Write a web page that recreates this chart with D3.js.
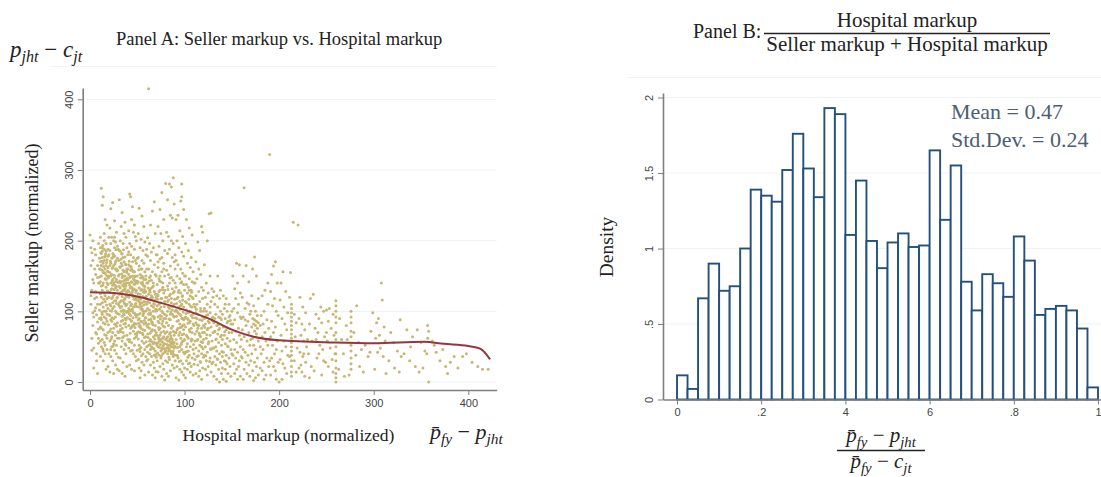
<!DOCTYPE html>
<html>
<head>
<meta charset="utf-8">
<script src="https://cdn.jsdelivr.net/npm/d3@7"></script>
<style>
  body { margin: 0; background: #fff; }
  svg { display: block; }
  .serif { font-family: "Liberation Serif", "Times New Roman", serif; }
  .tick text { font-family: "Liberation Sans", Arial, sans-serif; font-size: 11px; fill: #444; }
</style>
</head>
<body>
<svg id="chart" width="1101" height="477"></svg>
<script>
// Panel A: seller markup vs hospital markup
const scatterPoints = [
  [0,208],[1,190],[2,183],[1,165],[3,172],[2,130],[1,110],[3,98],[2,62],[4,48],[5,188],[6,152],[4,140],[7,120],[5,101],[8,85],[6,70],[9,55],[7,40],[8,12],[9,196],[5,160],[3,145],[6,128],[8,110],[4,92],[9,75],[7,30],[2,45],[6,180],[8,165],[9,140],[10,102],[10,90],[5,118],[3,80],[7,95],[1,122],[9,62],[4,20],[8,148],[6,105],[10,175],[3,200],[7,68],
  [12,274],[14,262],[13,250],[16,230],[18,222],[11,205],[15,200],[17,196],[13,190],[19,188],[12,182],[16,178],[18,173],[11,170],[14,168],[17,165],[19,162],[13,158],[15,155],[12,150],[18,150],[16,146],[11,142],[14,140],[19,138],[17,134],[13,130],[15,126],[12,120],[18,118],[16,114],[11,110],[14,106],[19,104],[17,100],[13,96],[15,92],[12,88],[18,86],[16,82],[11,78],[14,74],[19,70],[17,66],[13,60],[15,56],[12,50],[18,46],[16,40],[11,36],[14,30],[19,22],[17,18],[13,185],[19,178],[11,160],[15,172],[17,185],[12,165],[18,140],[14,155],[16,160],[11,125],[19,128],[13,112],[15,100],[17,90],[12,76],[18,62],[16,52],[14,44],[11,58],[19,156],[13,176],[15,188],[17,145],[12,136],[16,122],[18,96],[14,84],[10,160],[10,140],[11,190],[15,210],[20,205],[20,180],[20,150],[20,120],[20,95],[20,40],
  [22,245],[24,254],[26,228],[21,218],[28,212],[23,205],[25,200],[27,198],[29,192],[21,186],[24,182],[26,178],[28,172],[22,168],[25,165],[27,160],[29,158],[21,155],[23,152],[26,148],[28,145],[22,140],[24,137],[27,133],[29,130],[21,127],[25,123],[23,118],[26,115],[28,111],[22,108],[24,104],[27,100],[29,97],[21,94],[25,90],[23,86],[26,82],[28,79],[22,75],[24,70],[27,66],[29,62],[21,58],[25,54],[23,50],[26,45],[28,40],[22,36],[24,30],[27,24],[29,18],[21,14],[25,12],[23,175],[26,190],[28,160],[22,150],[24,162],[27,142],[29,120],[21,110],[25,140],[23,132],[26,125],[28,98],[22,88],[24,112],[27,92],[29,84],[21,72],[25,76],[23,64],[26,58],[28,52],[22,46],[24,120],[27,170],[29,175],[30,188],[30,150],[30,110],[30,70],[30,35],[22,196],[26,205],[24,145],[28,135],[21,165],[25,180],[23,100],[27,115],
  [31,258],[34,240],[37,226],[33,220],[36,210],[38,205],[32,200],[35,196],[39,190],[31,186],[34,182],[37,177],[33,174],[36,170],[38,166],[32,162],[35,158],[39,155],[31,152],[34,148],[37,145],[33,142],[36,139],[38,136],[32,133],[35,130],[39,127],[31,124],[34,121],[37,118],[33,115],[36,112],[38,108],[32,105],[35,102],[39,99],[31,96],[34,93],[37,90],[33,86],[36,82],[38,78],[32,74],[35,70],[39,66],[31,62],[34,58],[37,54],[33,50],[36,46],[38,40],[32,34],[35,28],[39,22],[31,16],[34,12],[37,8],[33,168],[36,156],[38,144],[32,140],[35,150],[39,160],[31,135],[34,128],[37,110],[33,100],[36,95],[38,88],[32,80],[35,115],[39,140],[31,172],[34,165],[37,150],[33,125],[36,135],[38,122],[40,180],[40,160],[40,130],[40,100],[40,60],[32,185],[35,176],[37,132],[39,110],[31,108],[34,76],[36,65],[38,52],
  [42,266],[43,262],[45,248],[44,230],[47,222],[41,214],[46,212],[48,206],[49,200],[42,196],[44,192],[47,188],[41,184],[43,180],[46,176],[48,172],[49,168],[42,164],[44,160],[47,156],[41,152],[43,149],[46,146],[48,143],[49,140],[42,137],[44,134],[47,131],[41,128],[43,125],[46,122],[48,119],[49,116],[42,113],[44,110],[47,107],[41,104],[43,101],[46,98],[48,95],[49,92],[42,89],[44,86],[47,83],[41,80],[43,76],[46,72],[48,68],[49,64],[42,60],[44,56],[47,52],[41,48],[43,44],[46,40],[48,36],[49,30],[42,24],[44,18],[47,16],[45,170],[45,150],[45,130],[45,100],[45,80],[50,175],[50,150],[50,140],[50,120],[50,95],[50,70],[50,45],[42,148],[44,142],[47,138],[41,120],[43,94],[46,156],[48,150],[49,130],[42,102],[44,78],[47,62],[41,166],[43,158],[46,132],[48,110],[49,82],[40,145],[41,140],[46,106],[47,144],[44,124],[43,108],
  [52,246],[55,235],[57,220],[51,210],[54,202],[58,198],[53,190],[56,186],[59,180],[51,176],[55,172],[57,168],[52,164],[54,160],[58,156],[53,152],[56,148],[59,145],[51,142],[55,139],[57,136],[52,133],[54,130],[58,127],[53,124],[56,121],[59,118],[51,115],[55,112],[57,109],[52,106],[54,103],[58,100],[53,97],[56,94],[59,91],[51,88],[55,85],[57,82],[52,79],[54,76],[58,73],[53,70],[56,67],[59,64],[51,61],[55,58],[57,55],[52,52],[54,49],[58,46],[53,43],[56,40],[59,36],[51,32],[55,28],[57,24],[52,20],[54,16],[58,10],[53,6],[56,138],[59,150],[51,125],[55,160],[57,145],[52,118],[54,140],[58,135],[53,110],[56,100],[59,128],[51,95],[55,150],[57,114],[52,90],[54,86],[58,120],[53,80],[56,74],[59,84],[60,188],[60,160],[60,140],[60,110],[60,80],[60,50],[60,30],
  [62,415],[68,255],[66,242],[64,222],[69,210],[61,204],[63,196],[67,190],[65,184],[61,178],[64,172],[68,166],[62,160],[66,156],[69,152],[63,148],[65,144],[61,140],[67,136],[64,132],[68,128],[62,124],[66,120],[69,116],[63,112],[65,108],[61,104],[67,100],[64,96],[68,92],[62,88],[66,84],[69,80],[63,76],[65,72],[61,68],[67,64],[64,60],[68,56],[62,52],[66,48],[69,44],[63,40],[65,36],[61,32],[67,28],[64,24],[68,20],[62,14],[66,10],[69,6],[63,130],[65,122],[61,114],[67,106],[64,98],[68,90],[62,82],[66,74],[69,66],[63,58],[65,50],[61,42],[67,140],[64,150],[68,110],[62,96],[66,134],[69,124],[63,102],[65,86],[61,78],[67,54],[64,46],[68,38],[70,180],[70,150],[70,120],[70,100],[70,70],[70,55],[70,35],[70,15],
  [80,281],[76,268],[74,244],[78,230],[72,220],[75,210],[77,200],[73,192],[79,186],[71,180],[74,174],[78,168],[72,162],[76,156],[79,150],[73,146],[75,142],[71,138],[77,134],[74,130],[78,126],[72,122],[76,118],[79,114],[73,110],[75,106],[71,102],[77,98],[74,94],[78,90],[72,86],[76,82],[79,78],[73,74],[75,70],[71,66],[77,62],[74,58],[78,54],[72,50],[76,46],[79,42],[73,38],[75,34],[71,30],[77,26],[74,22],[78,18],[72,14],[76,8],[79,3],[73,128],[75,118],[71,108],[77,86],[74,76],[78,64],[72,56],[76,48],[79,54],[73,60],[75,44],[71,52],[77,40],[74,66],[78,72],[72,92],[76,100],[79,96],[73,84],[75,112],[71,124],[77,140],[74,150],[78,160],[72,170],[76,176],[79,130],[80,120],[80,90],[80,60],[80,45],[80,30],
  [88,289],[84,280],[86,276],[82,258],[89,252],[85,236],[87,232],[81,212],[83,206],[86,200],[88,196],[84,188],[82,182],[87,176],[89,170],[85,164],[81,158],[83,152],[86,148],[88,144],[84,140],[82,136],[87,132],[89,128],[85,124],[81,120],[83,116],[86,112],[88,108],[84,104],[82,100],[87,96],[89,92],[85,88],[81,84],[83,80],[86,76],[88,72],[84,68],[82,64],[87,60],[89,56],[85,52],[81,48],[83,44],[86,40],[88,36],[84,32],[82,28],[87,24],[89,20],[85,16],[81,12],[83,8],[86,50],[88,54],[84,46],[82,58],[87,42],[89,48],[85,56],[81,62],[83,52],[86,62],[88,44],[84,58],[82,40],[87,50],[89,66],[85,70],[81,94],[83,106],[86,118],[88,126],[84,122],[82,114],[87,102],[89,110],[85,96],[90,140],[90,100],[90,70],[90,50],[90,30],[90,160],[90,180],
  [97,280],[97,262],[96,256],[99,244],[93,236],[91,230],[95,214],[98,206],[92,200],[94,190],[97,184],[99,178],[91,172],[93,166],[96,160],[98,154],[92,150],[95,146],[97,142],[99,138],[91,134],[94,130],[96,126],[98,122],[92,118],[95,114],[97,110],[99,106],[91,102],[93,98],[96,94],[98,90],[92,86],[95,82],[97,78],[99,74],[91,70],[94,66],[96,62],[98,58],[92,54],[95,50],[97,46],[99,42],[91,38],[93,34],[96,30],[98,26],[92,22],[95,18],[97,14],[99,10],[91,6],[94,3],[96,140],[98,116],[92,100],[95,96],[97,90],[99,68],[91,60],[93,120],[96,108],[98,80],[92,74],[95,70],[97,56],[99,88],[93,76],[94,106],[100,150],[100,130],[100,90],[100,60],[100,40],[100,20],
  [102,230],[105,218],[108,208],[101,196],[104,186],[107,176],[103,168],[106,162],[109,156],[101,150],[105,146],[108,142],[102,138],[104,134],[107,130],[103,126],[106,122],[109,118],[101,114],[105,110],[108,106],[102,102],[104,98],[107,94],[103,90],[106,86],[109,82],[101,78],[105,74],[108,70],[102,66],[104,62],[107,58],[103,54],[106,50],[109,46],[101,42],[105,38],[108,34],[102,30],[104,26],[107,22],[103,18],[106,14],[109,10],[101,6],[105,130],[108,120],[102,112],[104,88],[107,76],[103,64],[106,100],[109,96],[101,92],[105,84],[108,60],[102,50],[104,44],[110,140],[110,110],[110,80],[110,40],[110,25],
  [118,220],[119,212],[114,198],[116,186],[112,170],[115,160],[117,152],[113,146],[111,140],[118,134],[115,128],[112,122],[119,118],[116,114],[113,110],[111,106],[117,100],[114,96],[119,92],[116,88],[112,84],[115,80],[118,76],[113,72],[111,68],[117,64],[114,60],[119,56],[116,52],[112,48],[115,44],[118,40],[113,36],[111,32],[117,28],[114,24],[119,20],[116,16],[112,12],[115,8],[118,4],[113,90],[117,104],[112,98],[114,76],[119,70],[116,66],[111,58],[118,50],[120,130],[120,100],[120,80],[120,60],[120,35],
  [126,238],[128,239],[124,200],[121,166],[127,150],[123,140],[129,132],[125,126],[122,120],[128,114],[124,110],[121,104],[127,98],[123,94],[129,90],[125,86],[122,82],[128,78],[124,74],[121,70],[127,66],[123,62],[129,58],[125,54],[122,50],[128,46],[124,42],[121,38],[127,34],[123,30],[129,26],[125,22],[122,18],[128,14],[124,10],[126,84],[130,120],[130,92],[130,70],[130,48],[130,28],[121,90],[127,106],[125,76],[123,100],
  [131,128],[134,122],[137,118],[132,110],[135,106],[138,100],[133,96],[136,92],[139,88],[131,84],[134,80],[137,76],[132,72],[135,68],[138,64],[133,60],[136,56],[139,52],[131,48],[134,44],[137,40],[132,36],[135,32],[138,28],[133,24],[136,18],[139,12],[131,8],[134,4],[137,0],[135,150],[138,130],[132,90],[136,74],[139,66],[133,50],[140,60],[140,96],[140,36],[140,20],
  [141,122],[144,118],[147,110],[142,104],[145,100],[148,94],[143,90],[146,86],[149,82],[141,78],[144,74],[147,70],[142,66],[145,62],[148,58],[143,54],[146,50],[149,46],[141,42],[144,38],[147,34],[142,30],[145,26],[148,22],[143,18],[146,12],[149,8],[141,4],[144,1],[150,100],[150,70],[150,40],[147,92],[143,110],[145,84],
  [155,168],[158,166],[151,150],[156,140],[153,132],[159,126],[154,118],[157,110],[152,104],[156,98],[159,92],[153,88],[151,82],[157,76],[154,72],[158,66],[152,60],[155,56],[159,50],[153,46],[156,42],[151,38],[154,34],[158,30],[152,26],[157,22],[155,18],[153,12],[159,8],[156,4],[160,90],[160,60],[160,36],
  [163,275],[165,165],[162,150],[168,142],[161,120],[166,112],[164,104],[169,96],[162,92],[167,86],[165,80],[161,74],[168,70],[163,64],[166,58],[169,52],[162,46],[164,42],[167,38],[161,34],[165,28],[168,24],[163,18],[166,12],[169,8],[162,4],[170,100],[170,60],[170,30],[164,88],[168,110],
  [174,177],[172,160],[176,150],[171,122],[178,118],[173,108],[175,100],[177,94],[172,90],[174,88],[176,86],[178,84],[173,82],[175,80],[171,78],[177,76],[174,72],[176,68],[172,62],[178,58],[173,52],[175,46],[171,40],[177,34],[174,28],[176,22],[172,16],[178,10],[175,6],[173,2],[180,80],[180,50],[180,20],
  [185,130],[182,122],[188,110],[184,100],[181,94],[187,88],[183,82],[189,76],[185,70],[182,64],[186,58],[188,52],[183,46],[181,40],[187,34],[184,28],[189,22],[182,16],[186,10],[184,4],[190,60],[190,30],[188,140],
  [190,322],[196,170],[194,164],[192,152],[198,140],[191,128],[195,118],[193,108],[197,100],[199,94],[192,86],[196,78],[194,70],[191,64],[198,58],[193,52],[197,46],[195,40],[192,34],[199,28],[194,22],[196,16],[191,10],[197,4],
  [204,156],[202,140],[207,128],[201,116],[205,106],[209,98],[203,90],[206,82],[208,74],[202,66],[205,58],[207,50],[203,44],[209,38],[201,32],[204,26],[206,20],[208,12],[203,4],[200,0],
  [215,226],[220,222],[212,155],[213,110],[213,104],[213,98],[213,92],[213,86],[213,80],[213,74],[213,68],[213,62],[213,56],[213,50],[213,44],[213,38],[213,30],[213,22],[213,14],[213,8],[211,120],[216,96],[218,84],[217,64],[219,48],[216,30],[218,14],[211,36],
  [222,120],[225,106],[228,98],[221,90],[224,82],[227,74],[223,66],[226,58],[229,50],[222,42],[225,36],[228,28],[221,20],[224,14],[227,8],[230,60],[226,40],[223,24],
  [236,124],[233,118],[244,106],[247,100],[239,96],[242,90],[245,84],[232,82],[238,76],[241,70],[248,64],[235,58],[243,52],[246,46],[231,40],[240,34],[249,28],[234,22],[237,16],[245,10],[232,6],[250,102],[250,70],[242,40],[247,30],[239,60],
  [253,104],[257,96],[252,86],[255,76],[258,66],[251,58],[254,48],[259,40],[256,32],[252,22],[257,14],[260,115],[260,108],[260,100],[260,92],[260,84],[260,70],[260,60],[260,50],[260,40],[260,30],[260,20],[260,12],[260,6],[260,0],[264,90],[266,60],[268,40],[263,18],[269,8],
  [282,108],[276,100],[276,92],[276,84],[276,72],[276,64],[276,52],[276,44],[276,34],[276,26],[276,18],[272,60],[279,70],[284,56],[287,46],[281,38],[285,22],[289,14],[291,52],[294,36],[297,72],[299,98],[296,42],[271,80],[274,10],
  [308,140],[309,116],[305,90],[303,84],[311,78],[306,66],[302,62],[312,58],[307,48],[304,42],[310,36],[301,18],[313,12],[318,70],[321,56],[325,44],[328,88],[316,30],[322,20],[329,36],[327,14],
  [335,74],[341,64],[346,74],[332,40],[338,30],[344,22],[350,56],[354,44],[357,80],[358,72],[357,62],[356,40],[358,0],[352,20],[348,14],[339,50],
  [362,58],[364,52],[366,42],[370,30],[376,22],[378,12],[381,28],[389,20],[394,36],[398,40],[404,28],[410,22],[415,18],[421,18],[373,46],[385,36],
  // extra points in the dense core
  [12.5,171],[14.5,163],[16.5,181],[18.5,157],[10.5,149],[13.5,137],[15.5,177],[17.5,169],[19.5,147],[11.5,183],[13.5,193],[16.5,153],[18.5,129],[14.5,117],[12.5,99],[17.5,109],[19.5,81],[11.5,91],[15.5,67],[13.5,47],
  [21.5,171],[23.5,161],[25.5,151],[27.5,187],[29.5,141],[22.5,131],[24.5,177],[26.5,167],[28.5,119],[21.5,101],[23.5,91],[25.5,107],[27.5,81],[29.5,71],[22.5,61],[24.5,51],[26.5,137],[28.5,157],[23.5,143],[25.5,131],
  [31.5,163],[33.5,153],[35.5,143],[37.5,167],[39.5,147],[32.5,127],[34.5,137],[36.5,117],[38.5,157],[31.5,113],[33.5,107],[35.5,97],[37.5,83],[39.5,91],[32.5,71],[34.5,63],[36.5,129],[38.5,99],[33.5,181],[35.5,187],[37.5,139],[39.5,121],[31.5,143],[36.5,101],[34.5,87],
  [41.5,171],[43.5,163],[45.5,157],[47.5,149],[49.5,143],[42.5,133],[44.5,127],[46.5,117],[48.5,111],[41.5,97],[43.5,87],[45.5,91],[47.5,77],[49.5,67],[42.5,69],[44.5,103],[46.5,139],[48.5,127],[43.5,141],[45.5,121],[47.5,97],[49.5,107],[41.5,57],[44.5,45],[46.5,81],
  [51.5,159],[53.5,147],[55.5,141],[57.5,131],[59.5,121],[52.5,113],[54.5,107],[56.5,97],[58.5,91],[51.5,83],[53.5,77],[55.5,69],[57.5,63],[59.5,57],[52.5,47],[54.5,131],[56.5,127],[58.5,113],[53.5,117],[55.5,103],[57.5,87],[59.5,101],[51.5,71],[54.5,37],
  [61.5,133],[63.5,127],[65.5,117],[67.5,111],[69.5,103],[62.5,97],[64.5,89],[66.5,81],[68.5,73],[61.5,63],[63.5,53],[65.5,57],[67.5,47],[69.5,39],[62.5,143],[64.5,119],[66.5,93],[68.5,61],[63.5,69],[65.5,83],
  [71.5,117],[73.5,103],[75.5,93],[77.5,79],[79.5,69],[72.5,63],[74.5,53],[76.5,57],[78.5,47],[71.5,41],[73.5,49],[75.5,61],[77.5,51],[79.5,43],[72.5,77],[74.5,89],[76.5,131],[78.5,107],[73.5,143],[75.5,37],
  [81.5,53],[83.5,47],[85.5,43],[87.5,57],[89.5,51],[82.5,49],[84.5,61],[86.5,55],[88.5,39],[81.5,71],[83.5,89],[85.5,99],[87.5,79],[89.5,117],[82.5,131],[84.5,147],[86.5,107],[88.5,93],[83.5,35],[85.5,65],
  [91.5,93],[93.5,87],[95.5,77],[97.5,67],[99.5,59],[92.5,49],[94.5,43],[96.5,53],[98.5,99],[91.5,111],[93.5,127],[95.5,103],[97.5,121],[99.5,81],[92.5,37],[94.5,29],
  [101.5,97],[103.5,83],[105.5,71],[107.5,61],[109.5,53],[102.5,43],[104.5,117],[106.5,107],[108.5,91],[103.5,35],[105.5,27],[107.5,127],
  [111.5,91],[113.5,81],[115.5,69],[117.5,57],[119.5,47],[112.5,103],[114.5,37],[116.5,29],[118.5,87],[113.5,59],
  [121.5,77],[123.5,67],[125.5,57],[127.5,47],[129.5,87],[122.5,37],[124.5,95],[126.5,29],
  [131.5,71],[133.5,61],[135.5,81],[137.5,91],[139.5,43],[134.5,33],
  [142.5,71],[145.5,51],[148.5,87],[143.5,29]
];

// smoothed (lowess) line
const lowessX = [0, 25, 50, 75, 100, 125, 152, 173, 200, 258, 300, 353, 374, 400, 413, 423];
const lowessY = [127, 126, 121, 112, 102, 90, 73, 64, 59, 56, 55, 57, 54, 51, 47, 32];

const xTicksA = [0, 100, 200, 300, 400];
const yTicksA = [0, 100, 200, 300, 400];

// Panel B: histogram, 40 bins of width .025 on [0,1]
const binWidth = 0.025;
const densityValues = [
  0.16, 0.07, 0.67, 0.90, 0.72, 0.75, 1.00, 1.39, 1.35, 1.31,
  1.52, 1.76, 1.53, 1.34, 1.93, 1.89, 1.09, 1.45, 1.05, 0.87,
  1.04, 1.10, 1.01, 1.02, 1.65, 1.19, 1.55, 0.78, 0.59, 0.83,
  0.77, 0.68, 1.08, 0.92, 0.56, 0.60, 0.62, 0.59, 0.47, 0.08
];
const xTicksB = [0, 0.2, 0.4, 0.6, 0.8, 1];
const xTickLabelsB = ["0", ".2", "4", "6", ".8", "1"];
const yTicksB = [0, 0.5, 1, 1.5, 2];
const yTickLabelsB = ["0", ".5", "1", "1.5", "2"];
const statLines = ["Mean = 0.47", "Std.Dev. = 0.24"];

const svg = d3.select('#chart');
const axisColor = '#7f7f7f';
const gridColor = '#edf2f4';

// writes italic math like p_jht - c_jt with subscripts
function mathText(sel, x, y, parts, size, anchor) {
  const t = sel.append('text')
    .attr('x', x).attr('y', y)
    .attr('class', 'serif')
    .attr('font-style', 'italic')
    .attr('font-size', size)
    .attr('fill', '#222')
    .attr('text-anchor', anchor || 'start');
  parts.forEach(p => {
    const ts = t.append('tspan').text(p.t);
    if (p.sub) ts.attr('font-size', size * 0.7).attr('dy', size * 0.22);
    if (p.up) ts.attr('dy', -size * 0.22);
    if (p.plain) ts.attr('font-style', 'normal');
  });
  return t;
}

const pbar = '\u0070\u0304';
const minus = ' \u2212 ';

// ---------- Panel A ----------
const xA = d3.scaleLinear().domain([-7.7, 430]).range([82.7, 496.7]);
const yA = d3.scaleLinear().domain([-11.3, 416]).range([390, 88]);

const gA = svg.append('g');

// faint top border of plot region
gA.append('line').attr('x1', 50).attr('x2', 497).attr('y1', 66.5).attr('y2', 66.5)
  .attr('stroke', '#f3f3f3');

gA.append('g').selectAll('line').data(yTicksA).join('line')
  .attr('x1', xA(-7.7)).attr('x2', xA(430))
  .attr('y1', d => yA(d)).attr('y2', d => yA(d))
  .attr('stroke', gridColor).attr('stroke-width', 1);

gA.append('g').selectAll('circle').data(scatterPoints).join('circle')
  .attr('cx', d => xA(d[0]))
  .attr('cy', d => yA(d[1]))
  .attr('r', 1.5)
  .attr('fill', '#c8b774');

const lowessPts = lowessX.map((x, i) => [x, lowessY[i]]);
gA.append('path').datum(lowessPts)
  .attr('d', d3.line().x(d => xA(d[0])).y(d => yA(d[1])).curve(d3.curveMonotoneX))
  .attr('fill', 'none').attr('stroke', '#933640').attr('stroke-width', 2);

const axAx = gA.append('g').attr('transform', `translate(0,${yA(-11.3)})`)
  .call(d3.axisBottom(xA).tickValues(xTicksA).tickSize(5).tickSizeOuter(0).tickPadding(4));
const axAy = gA.append('g').attr('transform', `translate(${xA(-7.7)},0)`)
  .call(d3.axisLeft(yA).tickValues(yTicksA).tickSize(5).tickSizeOuter(0));
axAy.selectAll('.tick text')
  .attr('x', 0).attr('y', -9.5).attr('dy', 0)
  .attr('text-anchor', 'middle').attr('transform', 'rotate(-90)');

[axAx, axAy].forEach(a => {
  a.select('.domain').attr('stroke', axisColor).attr('stroke-width', 1.6);
  a.selectAll('.tick line').attr('stroke', axisColor);
});

gA.append('text').attr('class', 'serif')
  .attr('x', 116).attr('y', 45).attr('font-size', 18.5).attr('fill', '#222')
  .text('Panel A: Seller markup vs. Hospital markup');

gA.append('text').attr('class', 'serif')
  .attr('transform', 'translate(37.5,243) rotate(-90)')
  .attr('text-anchor', 'middle').attr('font-size', 18).attr('fill', '#222')
  .text('Seller markup (normalized)');

gA.append('text').attr('class', 'serif')
  .attr('x', 288.5).attr('y', 441).attr('text-anchor', 'middle')
  .attr('font-size', 17.5).attr('fill', '#222')
  .text('Hospital markup (normalized)');

mathText(gA, 10, 57, [{t: 'p'}, {t: 'jht', sub: true}, {t: minus, up: true, plain: true}, {t: 'c'}, {t: 'jt', sub: true}], 23);
mathText(gA, 430, 439, [{t: pbar}, {t: 'fy', sub: true}, {t: minus, up: true, plain: true}, {t: 'p'}, {t: 'jht', sub: true}], 22);

// ---------- Panel B ----------
const xB = d3.scaleLinear().domain([-0.0333, 1.0071]).range([663, 1101]);
const yB = d3.scaleLinear().domain([0, 2.03]).range([399.5, 93]);

const gB = svg.append('g');

gB.append('line').attr('x1', 627).attr('x2', 1101).attr('y1', 77.5).attr('y2', 77.5)
  .attr('stroke', '#f3f3f3');

gB.append('g').selectAll('line').data(yTicksB.slice(1)).join('line')
  .attr('x1', xB(-0.0333)).attr('x2', xB(1.0071))
  .attr('y1', d => yB(d)).attr('y2', d => yB(d))
  .attr('stroke', gridColor).attr('stroke-width', 1);

gB.append('g').selectAll('rect').data(densityValues).join('rect')
  .attr('x', (d, i) => xB(i * binWidth))
  .attr('y', d => yB(d))
  .attr('width', xB(binWidth) - xB(0))
  .attr('height', d => yB(0) - yB(d))
  .attr('fill', '#fff')
  .attr('stroke', '#24507c')
  .attr('stroke-width', 1.9);

const axBx = gB.append('g').attr('transform', `translate(0,${yB(0)})`)
  .call(d3.axisBottom(xB).tickValues(xTicksB).tickSize(5).tickSizeOuter(0).tickPadding(4)
    .tickFormat((d, i) => xTickLabelsB[i]));
const axBy = gB.append('g').attr('transform', `translate(${xB(-0.0333)},0)`)
  .call(d3.axisLeft(yB).tickValues(yTicksB).tickSize(5).tickSizeOuter(0)
    .tickFormat((d, i) => yTickLabelsB[i]));
axBy.selectAll('.tick text')
  .attr('x', 0).attr('y', -10).attr('dy', 0)
  .attr('text-anchor', 'middle').attr('transform', 'rotate(-90)');

[axBx, axBy].forEach(a => {
  a.select('.domain').attr('stroke', axisColor).attr('stroke-width', 1.6);
  a.selectAll('.tick line').attr('stroke', axisColor);
});

gB.append('text').attr('class', 'serif')
  .attr('transform', 'translate(613,247) rotate(-90)')
  .attr('text-anchor', 'middle').attr('font-size', 19.5).attr('fill', '#222')
  .text('Density');

gB.append('g').selectAll('text').data(statLines).join('text')
  .attr('class', 'serif')
  .attr('x', 951).attr('y', (d, i) => 119 + i * 28)
  .attr('font-size', 22).attr('fill', '#4c5d74')
  .text(d => d);

// title with fraction
gB.append('text').attr('class', 'serif')
  .attr('x', 693).attr('y', 38).attr('font-size', 20).attr('fill', '#222')
  .text('Panel B:');
gB.append('text').attr('class', 'serif')
  .attr('x', 907).attr('y', 27).attr('text-anchor', 'middle').attr('font-size', 21).attr('fill', '#222')
  .text('Hospital markup');
gB.append('line').attr('x1', 764).attr('x2', 1050).attr('y1', 33.5).attr('y2', 33.5)
  .attr('stroke', '#222').attr('stroke-width', 1.4);
gB.append('text').attr('class', 'serif')
  .attr('x', 907).attr('y', 51).attr('text-anchor', 'middle').attr('font-size', 21).attr('fill', '#222')
  .text('Seller markup + Hospital markup');

// x label fraction
mathText(gB, 881, 442, [{t: pbar}, {t: 'fy', sub: true}, {t: minus, up: true, plain: true}, {t: 'p'}, {t: 'jht', sub: true}], 21, 'middle');
gB.append('line').attr('x1', 837).attr('x2', 925).attr('y1', 450.5).attr('y2', 450.5)
  .attr('stroke', '#222').attr('stroke-width', 1.4);
mathText(gB, 881, 468, [{t: pbar}, {t: 'fy', sub: true}, {t: minus, up: true, plain: true}, {t: 'c'}, {t: 'jt', sub: true}], 21, 'middle');
</script>
</body>
</html>
